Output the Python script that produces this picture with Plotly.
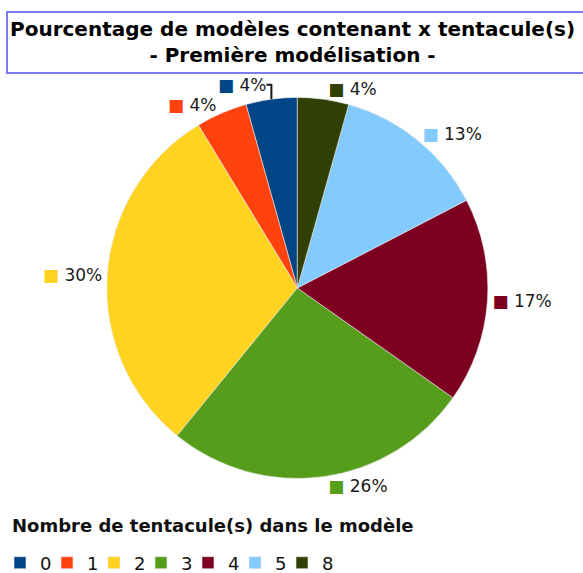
import plotly.graph_objects as go

# nombre de tentacules par modèle -> nombre de modèles (23 au total)
tentacules = ["0", "1", "2", "3", "4", "5", "8"]
nb_modeles = [1, 1, 7, 6, 4, 3, 1]
couleurs = ["#004586", "#ff420e", "#ffd320", "#579d1c", "#7e0021", "#83caff", "#314004"]

titre = "Pourcentage de modèles contenant x tentacule(s)<br>- Première modélisation -"
titre_legende = "Nombre de tentacule(s) dans le modèle"

W, H = 583, 573
police = "DejaVu Sans"

# petit carré coloré devant chaque étiquette
carres = [f"<span style='color:{c}'>■</span>" for c in couleurs]

# plotly fait finir la 1re part à midi en sens antihoraire : on la fait commencer à midi
rotation = -360 * nb_modeles[0] / sum(nb_modeles)

fig = go.Figure()
fig.add_trace(go.Pie(
    labels=tentacules,
    values=nb_modeles,
    text=carres,
    texttemplate="%{text} %{percent:.0%}",
    textposition="outside",
    textfont=dict(family=police, size=17, color="#1a1a1a"),
    marker=dict(colors=couleurs, line=dict(color="#e8e8e8", width=0.6)),
    sort=False,
    direction="counterclockwise",
    rotation=rotation,
    domain=dict(x=[0.1, 0.92], y=[0.165, 0.83]),
    hoverinfo="label+percent",
))

fig.update_layout(
    width=W, height=H,
    margin=dict(l=0, r=0, t=0, b=0, autoexpand=False),
    paper_bgcolor="white",
    plot_bgcolor="white",
    font=dict(family=police, color="#111111"),
    showlegend=True,
    legend=dict(
        orientation="h",
        x=10 / W, xanchor="left",
        y=(H - 563) / H, yanchor="middle",
        font=dict(family=police, size=18, color="#111111"),
        itemwidth=30,
        indentation=-10,
        entrywidth=12,
        entrywidthmode="pixels",
        traceorder="normal",
    ),
    annotations=[
        dict(
            text=f"<b>{titre}</b>",
            xref="paper", yref="paper",
            x=292 / W, y=1 - 42 / H,
            xanchor="center", yanchor="middle",
            showarrow=False,
            font=dict(family=police, size=20, color="#000000"),
            align="center",
        ),
        dict(
            text=f"<b>{titre_legende}</b>",
            xref="paper", yref="paper",
            x=10 / W, y=1 - 525 / H,
            xanchor="left", yanchor="middle",
            showarrow=False,
            font=dict(family=police, size=18, color="#111111"),
        ),
    ],
    shapes=[dict(
        type="rect", xref="paper", yref="paper",
        x0=7 / W, x1=600 / W, y0=1 - 73 / H, y1=1 - 12 / H,
        line=dict(color="#7b7bf0", width=2),
        fillcolor="rgba(0,0,0,0)",
        layer="above",
    )],
)

# pas de marge autour du graphique dans la page, pas de barre d'outils
fig.write_html("out.html", config={"displayModeBar": False},
               post_script="document.body.style.margin='0';")
